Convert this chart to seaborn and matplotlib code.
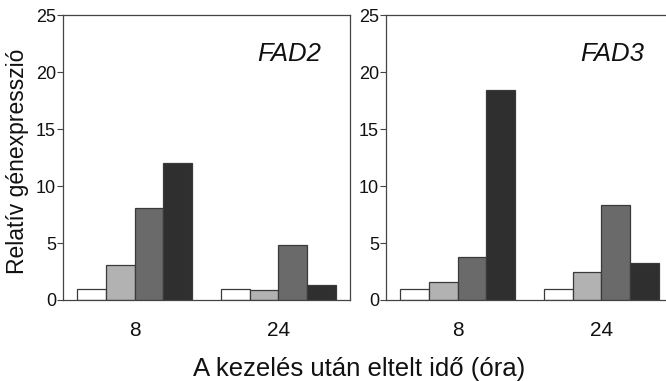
import pandas as pd
import matplotlib
matplotlib.use("Agg")
import matplotlib.pyplot as plt
import seaborn as sns

# adatok
idopontok = ["8", "24"]
kezelesek = ["k1", "k2", "k3", "k4"]
fad2 = [[1.0, 3.1, 8.05, 12.05],
        [1.0, 0.88, 4.8, 1.3]]
fad3 = [[1.0, 1.6, 3.75, 18.4],
        [1.0, 2.45, 8.3, 3.25]]
gene_names = ["FAD2", "FAD3"]
colors = ["#ffffff", "#b2b2b2", "#6a6a6a", "#2f2f2f"]
y_ticks = [0, 5, 10, 15, 20, 25]


def to_long(values):
    rows = []
    for i, t in enumerate(idopontok):
        for j, k in enumerate(kezelesek):
            rows.append({"ido": t, "kezeles": k, "ertek": values[i][j]})
    return pd.DataFrame(rows)


sns.set_style("white")
plt.rcParams["font.family"] = ["Liberation Sans", "DejaVu Sans"]
plt.rcParams["text.color"] = "#111111"
plt.rcParams["xtick.color"] = "#111111"
plt.rcParams["ytick.color"] = "#111111"

fig = plt.figure(figsize=(6.66, 3.81), dpi=100)
positions = [[0.0946, 0.2126, 0.431, 0.748],
             [0.5796, 0.2126, 0.431, 0.748]]

for pos, vals, name in zip(positions, [fad2, fad3], gene_names):
    ax = fig.add_axes(pos)
    df = to_long(vals)
    sns.barplot(data=df, x="ido", y="ertek", hue="kezeles", order=idopontok,
                hue_order=kezelesek, palette=colors, width=0.8,
                edgecolor="#3a3a3a", linewidth=0.9, legend=False, ax=ax)
    ax.set_xlim(-0.5, 1.5)
    ax.set_ylim(0, 25)
    ax.set_yticks(y_ticks)
    ax.tick_params(axis="y", labelsize=13, length=4, width=0.8,
                   color="#444444", pad=1, left=True)
    ax.tick_params(axis="x", labelsize=15, length=0, pad=15)
    ax.set_xlabel("")
    ax.set_ylabel("")
    for sp in ax.spines.values():
        sp.set_color("#444444")
        sp.set_linewidth(0.9)
    ax.text(0.9, 0.863, name, transform=ax.transAxes, ha="right", va="center",
            fontsize=18.5, style="italic")

fig.text(0.027, 0.577, "Relatív génexpresszió", rotation=90, ha="center",
         va="center", fontsize=16.5)
fig.text(0.539, 0.012, "A kezelés után eltelt idő (óra)", ha="center",
         va="baseline", fontsize=18.5)

fig.savefig("out.png", dpi=100)
